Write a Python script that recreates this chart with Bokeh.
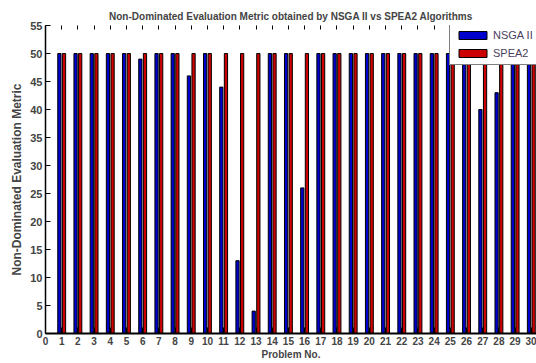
from bokeh.plotting import figure
from bokeh.models import ColumnDataSource, LinearAxis, FixedTicker, Range1d, Title
from bokeh.transform import dodge
from bokeh.embed import file_html
from bokeh.resources import INLINE

problems = list(range(1, 31))
nsga2 = [50, 50, 50, 50, 50, 49, 50, 50, 46, 50,
         44, 13, 4, 50, 50, 26, 50, 50, 50, 50,
         50, 50, 50, 50, 50, 50, 40, 43, 50, 50]
spea2 = [50] * 30
y_ticks = list(range(0, 56, 5))
x_ticks = list(range(0, 31))

src = ColumnDataSource(dict(x=problems, nsga2=nsga2, spea2=spea2))

FONT = "Liberation Sans"

p = figure(width=536, height=363, output_backend="svg", toolbar_location=None,
           x_range=Range1d(0, 30.32), y_range=Range1d(0, 55),
           frame_width=491, frame_height=308,
           min_border_left=45, min_border_right=0, min_border_top=25, min_border_bottom=30)
p.outline_line_color = None
p.xgrid.visible = False
p.ygrid.visible = False
p.background_fill_color = "white"
p.border_fill_color = "white"

p.vbar(x=dodge("x", -0.143, range=p.x_range), top="nsga2", width=0.2, source=src,
       fill_color="#0000CC", line_color="black", line_width=1, legend_label="NSGA II")
p.vbar(x=dodge("x", 0.143, range=p.x_range), top="spea2", width=0.2, source=src,
       fill_color="#CC0000", line_color="black", line_width=1, legend_label="SPEA2")

p.title = Title(text="Non-Dominated Evaluation Metric obtained by NSGA II vs SPEA2 Algorithms",
                text_font=FONT, text_font_size="10px", text_font_style="bold",
                align="center", offset=0, standoff=8)

xa = p.xaxis[0]
xa.ticker = FixedTicker(ticks=x_ticks)
xa.axis_label = "Problem No."
xa.axis_label_text_font = FONT
xa.axis_label_text_font_size = "10px"
xa.axis_label_text_font_style = "bold"
xa.axis_label_standoff = 1
xa.major_label_text_font = FONT
xa.major_label_text_font_size = "10px"
xa.major_label_text_font_style = "bold"
xa.major_label_standoff = 3
xa.major_tick_in = 6
xa.major_tick_out = 0
xa.minor_tick_line_color = None
xa.axis_line_width = 2

ya = p.yaxis[0]
ya.ticker = FixedTicker(ticks=y_ticks)
ya.axis_label = "Non-Dominated Evaluation Metric"
ya.axis_label_text_font = FONT
ya.axis_label_text_font_size = "12px"
ya.axis_label_text_font_style = "bold"
ya.axis_label_standoff = 3
ya.major_label_text_font = FONT
ya.major_label_text_font_size = "11px"
ya.major_label_text_font_style = "bold"
ya.major_label_standoff = 3
ya.major_tick_in = 5
ya.major_tick_out = 0
ya.minor_tick_line_color = None
ya.axis_line_width = 1.5

top = LinearAxis(ticker=FixedTicker(ticks=x_ticks),
                 major_label_overrides={t: "" for t in x_ticks},
                 major_label_text_font_size="1px",
                 axis_line_color=None, major_tick_in=4, major_tick_out=0,
                 minor_tick_line_color=None, major_label_standoff=0)
p.add_layout(top, "above")

lg = p.legend[0]
lg.location = (404, 268)
lg.label_text_font = FONT
lg.label_text_font_size = "11px"
lg.label_text_color = "#4a4060"
lg.glyph_width = 35
lg.glyph_height = 10
lg.label_height = 10
lg.spacing = 6
lg.padding = 5
lg.margin = 0
lg.label_standoff = 3
lg.border_line_color = "black"
lg.border_line_width = 1
lg.background_fill_alpha = 1.0

open("out.html", "w").write(file_html(p, INLINE))
